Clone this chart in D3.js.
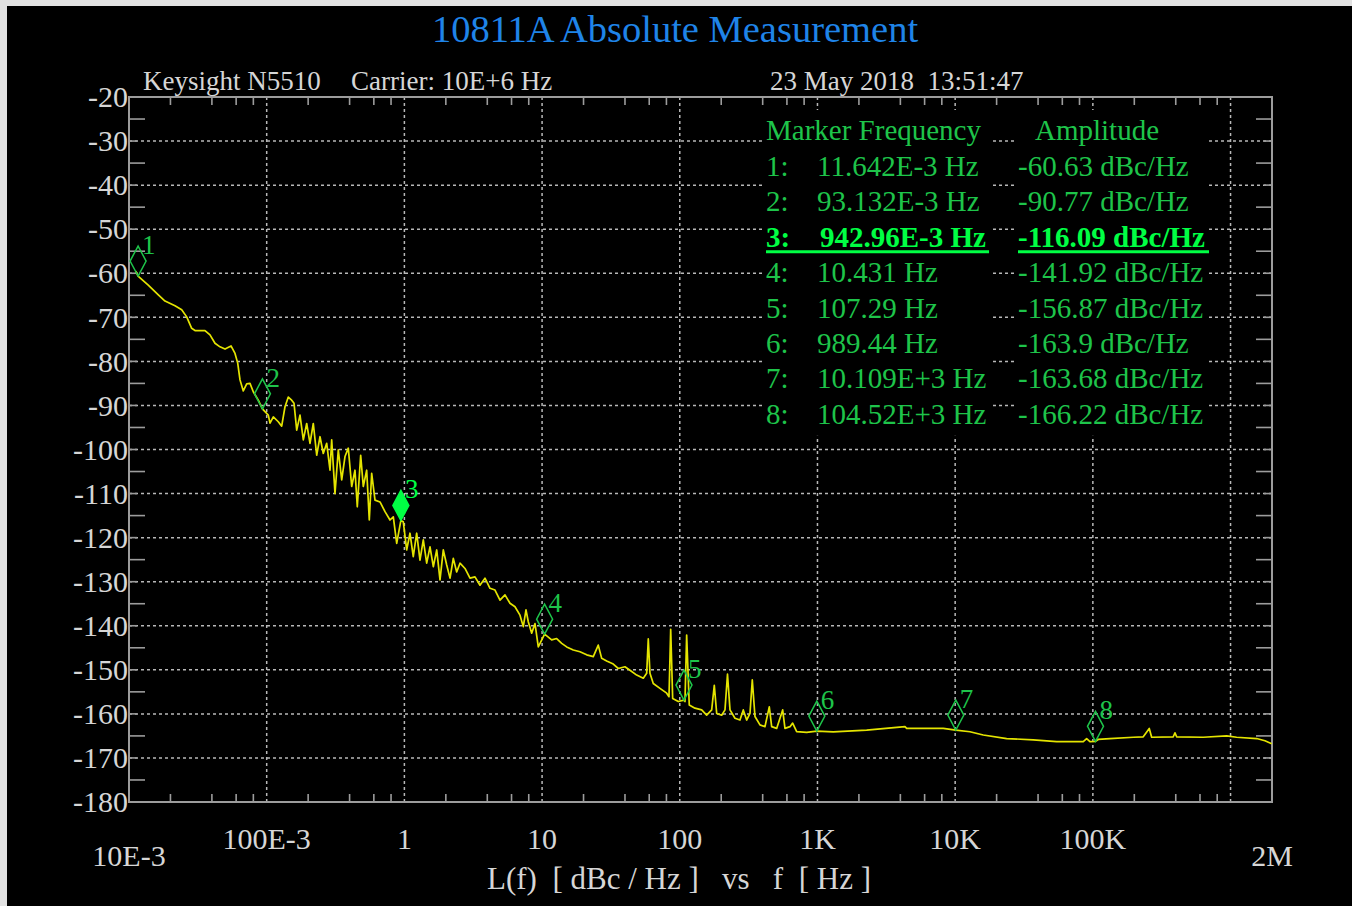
<!DOCTYPE html>
<html>
<head>
<meta charset="utf-8">
<script src="https://cdn.jsdelivr.net/npm/d3@7"></script>
<style>
html, body { margin: 0; padding: 0; background: #e2e2e2; }
svg { display: block; }
text { font-family: "Liberation Serif", "Times New Roman", serif; }
</style>
</head>
<body>
<svg id="chart" width="1352" height="906"></svg>
<script>

/**************
***** DATA *****
**************/

// trace, frequency in Hz
const traceFreq = [
    0.0112, 0.01164, 0.0138, 0.01633, 0.01826, 0.02158, 0.02414, 0.02624, 0.02852, 0.03015,
    0.03563, 0.03874, 0.04212, 0.04579, 0.04981, 0.05506, 0.05887, 0.06159, 0.0640, 0.06761,
    0.07158, 0.07562, 0.07991, 0.0869, 0.09313, 0.1027, 0.1057, 0.1117, 0.1214, 0.1285,
    0.1358, 0.1435, 0.1519, 0.1579, 0.1652, 0.1745, 0.1845, 0.1952, 0.2063, 0.218,
    0.2308, 0.2439, 0.2576, 0.2728, 0.2883, 0.2965, 0.3133, 0.3311, 0.3506, 0.3704,
    0.3914, 0.4143, 0.4377, 0.4549, 0.4815, 0.5029, 0.5323, 0.556, 0.5788, 0.6117,
    0.665, 0.7231, 0.7862, 0.8308, 0.8795, 0.943, 0.9817, 1.039, 1.098, 1.16,
    1.228, 1.298, 1.372, 1.452, 1.535, 1.622, 1.717, 1.814, 1.917, 2.029,
    2.145, 2.266, 2.398, 2.534, 2.755, 2.996, 3.256, 3.54, 3.848, 4.185,
    4.55, 4.947, 5.378, 5.847, 6.357, 6.911, 7.304, 7.641, 7.94, 8.406,
    8.883, 9.385, 10.43, 11.74, 12.76, 13.88, 15.09, 16.85, 18.85, 21.08,
    23.54, 25.59, 27.09, 29.45, 32.89, 35.76, 39.99, 43.48, 48.64, 54.33,
    57.5, 59.05, 60.75, 64.19, 71.82, 80.35, 83.5, 85.9, 88.82, 97.53,
    107.3, 109.1, 112.2, 117.2, 128.9, 144.2, 156.8, 170.5, 178.1, 185.4,
    201.5, 213.0, 222.1, 231.6, 251.7, 273.6, 289.2, 306.1, 323.5, 336.2,
    351.7, 382.3, 415.6, 446.7, 465.0, 505.4, 558.8, 580.7, 631.4, 660.5,
    706.2, 834.9, 989.4, 1302, 2277, 4319, 4444, 8195, 10109, 12804,
    15996, 23659, 36914, 54592, 85180, 90139, 95262, 104520, 109451, 133138,
    196561, 232274, 256800, 267300, 383700, 394700, 406100, 633600, 936900, 1107000,
    1547000, 1778000, 1990000
];

// L(f) in dBc/Hz, same order as traceFreq
const traceAmp = [
    -59.5, -60.63, -62.7, -64.9, -66.3, -67.4, -68.3, -69.9, -72.5, -73.0,
    -73.0, -74.0, -75.9, -76.7, -77.2, -76.5, -78.2, -80.4, -84.2, -86.7,
    -85.1, -85.0, -86.9, -88.8, -90.77, -92.2, -94.0, -92.6, -93.7, -94.7,
    -90.3, -88.1, -88.8, -89.5, -95.6, -92.2, -97.8, -94.1, -98.6, -94.1,
    -101.3, -97.1, -100.9, -98.6, -104.7, -97.8, -110.0, -100.1, -106.9, -101.6,
    -99.7, -108.4, -104.7, -113.0, -101.3, -108.4, -104.7, -116.0, -105.4, -111.5,
    -111.9, -114.1, -116.0, -115.3, -121.3, -116.09, -116.4, -122.8, -119.0, -124.3,
    -119.0, -125.1, -120.5, -125.8, -122.1, -126.6, -122.8, -129.6, -122.8, -126.2,
    -129.2, -124.7, -127.8, -125.8, -127.0, -129.2, -128.9, -130.8, -129.2, -131.5,
    -131.9, -134.2, -133.0, -134.9, -135.7, -137.6, -140.2, -136.4, -139.1, -141.7,
    -139.5, -144.8, -141.92, -143.2, -142.9, -144.0, -144.8, -145.5, -145.9, -146.6,
    -147.0, -144.4, -147.4, -148.0, -148.7, -149.7, -149.3, -150.1, -151.2, -151.9,
    -150.8, -143.0, -150.8, -153.1, -154.2, -155.3, -156.1, -140.8, -156.5, -157.2,
    -156.87, -157.2, -142.1, -158.0, -158.7, -159.1, -160.3, -159.1, -153.5, -159.9,
    -160.3, -159.1, -151.0, -159.1, -161.0, -161.4, -159.1, -161.4, -159.9, -152.3,
    -160.6, -162.5, -162.9, -158.4, -162.9, -163.3, -159.1, -163.3, -162.9, -162.1,
    -164.05, -164.2, -163.9, -164.1, -163.7, -162.9, -163.3, -163.3, -163.68, -164.05,
    -164.8, -165.6, -165.9, -166.3, -166.3, -165.6, -166.3, -166.22, -165.8, -165.6,
    -165.3, -165.2, -163.3, -165.3, -165.2, -164.3, -165.2, -165.3, -165.0, -165.3,
    -165.6, -166.1, -166.8
];

// markers
const markerId = [1, 2, 3, 4, 5, 6, 7, 8];
const markerFreq = [0.011642, 0.093132, 0.94296, 10.431, 107.29, 989.44, 10109, 104520];
const markerAmp = [-60.63, -90.77, -116.09, -141.92, -156.87, -163.9, -163.68, -166.22];
const markerFreqLabel = ["11.642E-3 Hz", "93.132E-3 Hz", "942.96E-3 Hz", "10.431 Hz",
    "107.29 Hz", "989.44 Hz", "10.109E+3 Hz", "104.52E+3 Hz"];
const markerAmpLabel = ["-60.63 dBc/Hz", "-90.77 dBc/Hz", "-116.09 dBc/Hz", "-141.92 dBc/Hz",
    "-156.87 dBc/Hz", "-163.9 dBc/Hz", "-163.68 dBc/Hz", "-166.22 dBc/Hz"];
const activeMarker = 3;

// axes
const yTicks = [-20, -30, -40, -50, -60, -70, -80, -90, -100, -110, -120, -130, -140, -150, -160, -170, -180];
const xTickFreq = [0.1, 1, 10, 100, 1e3, 1e4, 1e5];
const xTickLabel = ["100E-3", "1", "10", "100", "1K", "10K", "100K"];
const xEndFreq = [0.01, 2e6];
const xEndLabel = ["10E-3", "2M"];
const xGridFreq = [0.1, 1, 10, 100, 1e3, 1e4, 1e5, 1e6];

/*********************
***** BASIC SETUP *****
*********************/

const WIDTH = 1352;
const HEIGHT = 906;
const TEXT_GRAY = "#d6d6d6";
const FRAME_GRAY = "#9c9c9c";
const GRID_GRAY = "#b8b8b8";
const TRACE_YELLOW = "#e4e400";
const MARKER_GREEN = "#1ec44a";
const ACTIVE_GREEN = "#00ff44";
const NBSP = "\u00a0";

const plot = {left: 129, right: 1272, top: 97, bottom: 802};

const svg = d3.select("#chart");

// black screen, leaving the thin light strip of the screenshot at top/left
svg.append("rect")
    .attr("x", 7).attr("y", 6)
    .attr("width", WIDTH - 7).attr("height", HEIGHT - 6)
    .attr("fill", "#000");

const x = d3.scaleLog()
    .domain([0.01, 2e6])
    .range([plot.left, plot.right]);

const y = d3.scaleLinear()
    .domain([-20, -180])
    .range([plot.top, plot.bottom]);

/**********************
***** GRID & TICKS *****
**********************/

const grid = svg.append("g").attr("class", "grid");

grid.selectAll(".hgrid")
    .data(yTicks.slice(1, -1))
    .enter()
    .append("line")
    .attr("x1", plot.left).attr("x2", plot.right)
    .attr("y1", d => y(d)).attr("y2", d => y(d))
    .attr("stroke", GRID_GRAY)
    .attr("stroke-width", 1.5)
    .attr("stroke-dasharray", "3,3");

grid.selectAll(".vgrid")
    .data(xGridFreq)
    .enter()
    .append("line")
    .attr("x1", d => x(d)).attr("x2", d => x(d))
    .attr("y1", plot.top).attr("y2", plot.bottom)
    .attr("stroke", GRID_GRAY)
    .attr("stroke-width", 1.5)
    .attr("stroke-dasharray", "3,3");

// minor x ticks at 2,4,6,8 of each decade, top and bottom
const minorX = [];
for (let e = -2; e <= 6; e++) {
    [2, 4, 6, 8].forEach(m => {
        const f = m * Math.pow(10, e);
        if (f < 2e6) minorX.push(f);
    });
}
const ticks = svg.append("g").attr("class", "ticks")
    .attr("stroke", FRAME_GRAY)
    .attr("stroke-width", 1.6);

minorX.forEach(f => {
    ticks.append("line")
        .attr("x1", x(f)).attr("x2", x(f))
        .attr("y1", plot.top).attr("y2", plot.top + 8);
    ticks.append("line")
        .attr("x1", x(f)).attr("x2", x(f))
        .attr("y1", plot.bottom).attr("y2", plot.bottom - 8);
});

// minor y ticks every 5 dB, major stubs at 10 dB
yTicks.slice(0, -1).forEach(v => {
    const yy = y(v - 5);
    ticks.append("line")
        .attr("x1", plot.left).attr("x2", plot.left + 16)
        .attr("y1", yy).attr("y2", yy);
    ticks.append("line")
        .attr("x1", plot.right).attr("x2", plot.right - 16)
        .attr("y1", yy).attr("y2", yy);
});
yTicks.slice(1, -1).forEach(v => {
    ticks.append("line")
        .attr("x1", plot.left).attr("x2", plot.left + 8)
        .attr("y1", y(v)).attr("y2", y(v));
    ticks.append("line")
        .attr("x1", plot.right).attr("x2", plot.right - 8)
        .attr("y1", y(v)).attr("y2", y(v));
});

// frame
svg.append("rect")
    .attr("x", plot.left).attr("y", plot.top)
    .attr("width", plot.right - plot.left)
    .attr("height", plot.bottom - plot.top)
    .attr("fill", "none")
    .attr("stroke", FRAME_GRAY)
    .attr("stroke-width", 2);

/*********************
***** AXIS LABELS *****
*********************/

const labels = svg.append("g")
    .attr("fill", TEXT_GRAY)
    .attr("font-size", 30);

labels.selectAll(".ylab")
    .data(yTicks)
    .enter()
    .append("text")
    .attr("x", plot.left - 1)
    .attr("y", d => y(d))
    .attr("dy", "0.34em")
    .attr("text-anchor", "end")
    .text(d => d);

labels.selectAll(".xlab")
    .data(xTickFreq)
    .enter()
    .append("text")
    .attr("x", d => x(d))
    .attr("y", 849)
    .attr("text-anchor", "middle")
    .text((d, i) => xTickLabel[i]);

labels.selectAll(".xend")
    .data(xEndFreq)
    .enter()
    .append("text")
    .attr("x", d => x(d))
    .attr("y", 866)
    .attr("text-anchor", "middle")
    .text((d, i) => xEndLabel[i]);

labels.append("text")
    .attr("x", 679)
    .attr("y", 889)
    .attr("text-anchor", "middle")
    .attr("font-size", 31)
    .text(`L(f)${NBSP}${NBSP}[ dBc / Hz ]${NBSP}${NBSP}${NBSP}vs${NBSP}${NBSP}${NBSP}f${NBSP}${NBSP}[ Hz ]`);

/*************************
***** TITLE & HEADER *****
*************************/

svg.append("text")
    .attr("x", 675)
    .attr("y", 42)
    .attr("text-anchor", "middle")
    .attr("font-size", 38.5)
    .attr("fill", "#1f84e8")
    .text("10811A Absolute Measurement");

const header = svg.append("g")
    .attr("fill", TEXT_GRAY)
    .attr("font-size", 27);

header.append("text").attr("x", 143).attr("y", 90).text("Keysight N5510");
header.append("text").attr("x", 351).attr("y", 90).text("Carrier: 10E+6 Hz");
header.append("text").attr("x", 770).attr("y", 90).text(`23 May 2018${NBSP}${NBSP}13:51:47`);

/****************
***** TRACE *****
****************/

const traceData = traceFreq.map((f, i) => ({f: f, a: traceAmp[i]}));

const line = d3.line()
    .x(d => x(d.f))
    .y(d => y(d.a));

svg.append("path")
    .datum(traceData)
    .attr("d", line)
    .attr("fill", "none")
    .attr("stroke", TRACE_YELLOW)
    .attr("stroke-width", 1.7)
    .attr("stroke-linejoin", "round");

/******************
***** MARKERS *****
******************/

const MARK_H = 30;
const MARK_W = 8;

const markers = svg.append("g").attr("class", "markers");

markerId.forEach((id, i) => {
    const px = x(markerFreq[i]);
    const py = y(markerAmp[i]);
    const active = id === activeMarker;
    const col = active ? ACTIVE_GREEN : MARKER_GREEN;

    markers.append("path")
        .attr("d", `M${px},${py} L${px + MARK_W},${py - MARK_H / 2} L${px},${py - MARK_H} L${px - MARK_W},${py - MARK_H / 2} Z`)
        .attr("fill", active ? col : "none")
        .attr("stroke", col)
        .attr("stroke-width", 1.5);

    markers.append("text")
        .attr("x", px + 4)
        .attr("y", py - MARK_H + 8)
        .attr("font-size", 27)
        .attr("fill", col)
        .text(id);
});

/************************
***** MARKER TABLE  *****
************************/

const ROW0 = 176;
const ROW_STEP = 35.4;

const table = svg.append("g")
    .attr("font-size", 29);

const colA = table.append("g");
const colB = table.append("g");

colA.append("text").attr("x", 766).attr("y", 140).attr("fill", MARKER_GREEN).text("Marker Frequency");
colB.append("text").attr("x", 1035).attr("y", 140).attr("fill", MARKER_GREEN).text("Amplitude");

const underline = [];

markerId.forEach((id, i) => {
    const yy = ROW0 + i * ROW_STEP;
    const active = id === activeMarker;
    const col = active ? ACTIVE_GREEN : MARKER_GREEN;
    const weight = active ? "bold" : "normal";

    colA.append("text")
        .attr("x", 766).attr("y", yy)
        .attr("fill", col).attr("font-weight", weight)
        .text(id + ":");
    const t2 = colA.append("text")
        .attr("x", active ? 820 : 817).attr("y", yy)
        .attr("fill", col).attr("font-weight", weight)
        .text(markerFreqLabel[i]);
    const t3 = colB.append("text")
        .attr("x", 1018).attr("y", yy)
        .attr("fill", col).attr("font-weight", weight)
        .text(markerAmpLabel[i]);

    if (active) {
        const b2 = t2.node().getBBox();
        const b3 = t3.node().getBBox();
        underline.push({x1: 766, x2: b2.x + b2.width + 3, y: yy + 5});
        underline.push({x1: 1018, x2: b3.x + b3.width + 4, y: yy + 5});
    }
});

underline.forEach(u => {
    table.append("line")
        .attr("x1", u.x1).attr("x2", u.x2)
        .attr("y1", u.y).attr("y2", u.y)
        .attr("stroke", ACTIVE_GREEN)
        .attr("stroke-width", 3);
});

// black boxes behind the two columns hide the grid
[colA, colB].forEach(g => {
    const b = g.node().getBBox();
    table.insert("rect", ":first-child")
        .attr("x", b.x - 4).attr("y", b.y - 4)
        .attr("width", b.width + 8).attr("height", b.height + 10)
        .attr("fill", "#000");
});

</script>
</body>
</html>
